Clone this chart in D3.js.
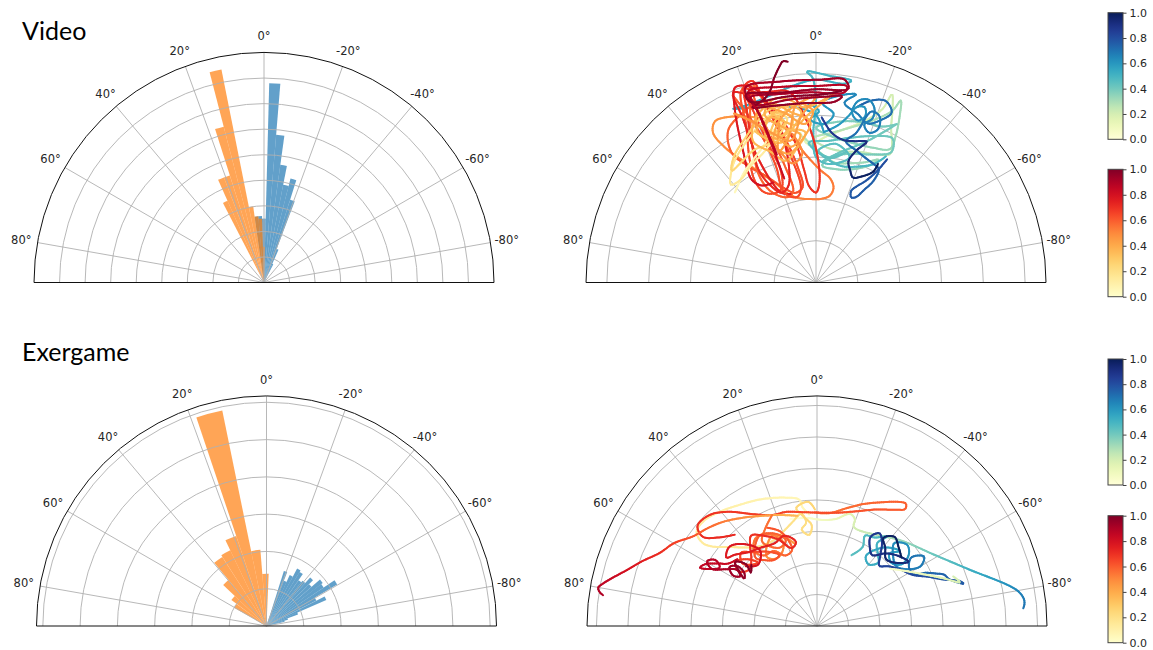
<!DOCTYPE html>
<html>
<head>
<meta charset="utf-8">
<script src="https://cdn.jsdelivr.net/npm/d3@7"></script>
<style>
  body { margin: 0; background: #fff; }
  svg { display: block; }
</style>
</head>
<body>
<svg id="chart" width="1153" height="650"></svg>
<script>
// ---------------- data ----------------
const angleTicks = [-80, -60, -40, -20, 0, 20, 40, 60, 80];
const colorbarTicks = [0, 0.2, 0.4, 0.6, 0.8, 1.0];

// Video: angular histogram (bin centre in degrees, count)
const videoBinWidth = 3.2;
const videoOrangeBins   = [0.1, 3.3, 6.5, 9.7, 12.9, 16.1, 19.3, 22.5, 25.7];
const videoOrangeCounts = [1.4, 2.5, 2.6, 3.0, 8.5, 6.3, 4.4, 4.4, 3.5];
const videoBlueBins     = [6.5, 3.3, 0.1, -3.1, -6.3, -9.5, -12.7, -15.9, -19.1, -22.3, -25.5];
const videoBlueCounts   = [2.6, 2.6, 2.5, 7.8, 5.8, 4.65, 3.9, 4.2, 3.4, 1.4, 0.8];

// Exergame: angular histogram
const exOrangeBinWidth = 7;
const exOrangeBins   = [1.1, 8.1, 15.1, 22.1, 29.1, 36.1, 43.1, 50.1, 57.1];
const exOrangeCounts = [1.4, 2.05, 5.9, 2.55, 2.25, 2.2, 1.6, 1.17, 1.0];
const exBlueBinWidth = 3.5;
const exBlueBins   = [-19.25, -22.75, -26.25, -29.75, -33.25, -36.75, -40.25, -43.75, -47.25,
                      -50.75, -54.25, -57.75, -61.25, -64.75, -68.25, -71.75, -75.25];
const exBlueCounts = [1.55, 1.3, 1.5, 1.75, 1.7, 1.5, 1.55, 1.75, 1.6,
                      1.9, 1.85, 2.2, 1.5, 1.75, 0.9, 0.6, 0.5];

// Video: trajectories as [angle in degrees, radius]; each has a normalised time span
const vidRedA = [[42,2.9],[38,3.0],[33,3.15],[27,3.3],[21,3.5],[16,3.75],[12,3.95],[16,3.6],[22,3.35],[29,3.2],[36,3.05],[41,3.1],[35,3.45],[28,3.7],[21,3.95],[15,4.15],[10,4.0],[13,3.7],[19,3.5],[25,3.5],[31,3.4],[37,3.35],[33,3.6],[26,3.85],[20,4.1],[14,4.3],[9,4.25]];
const vidRedB = [[9,4.2],[14,4.0],[17,3.7],[11,3.9],[15,4.2],[8,4.0],[12,3.6],[18,3.9],[10,4.3],[5,4.1],[9,3.7],[14,3.45],[19,3.6],[16,4.1],[7,3.8],[3,4.0],[-2,4.3],[-6,4.6],[-3,4.4],[4,4.2],[8,4.4],[13,4.5],[17,4.2],[12,3.8],[6,3.55],[10,3.3],[15,3.55],[21,3.8],[18,4.4],[11,4.15],[4,3.8],[1,4.1],[6,4.3],[11,3.5],[16,3.25],[13,3.9]];
const vidRedF = [[22,3.9],[16,3.5],[10,3.7],[4,3.6],[8,3.25],[14,3.0],[19,3.3],[24,3.7],[20,4.2],[14,4.4],[8,4.1],[2,3.85],[6,3.4],[12,3.15],[17,3.45],[13,3.95],[7,4.25],[0,4.45],[5,4.0],[10,3.45],[16,3.7],[23,4.25],[26,4.5],[20,4.0],[15,3.2],[11,2.9],[6,3.1],[9,3.6]];
const vidRedC = [[13,3.9],[20,4.2],[27,4.45],[32,4.55],[34.5,4.35],[34,3.9],[31,3.4],[27,2.95],[22,2.55],[17,2.2],[11,2.05],[4,2.0],[-3,2.0],[-9,2.1],[-10.5,2.3],[-8,2.5],[-2,2.7],[5,3.1],[10,3.6],[14,4.1],[18,4.5],[24,4.4],[30,4.2],[33,3.7],[30,3.2],[25,2.8],[19,2.4],[13,2.2],[8,2.3],[9,2.8],[12,3.5],[15,4.2]];
const vidRedD = [[15,4.2],[18,5.0],[20,4.6],[23,4.0],[26,3.4],[28,2.9],[27,2.5],[23,2.25],[18,2.15],[14,2.25],[15,2.9],[17,3.6],[18.5,4.3],[19,5.0],[21.5,4.9],[24,4.1],[28,3.4],[31,2.85],[30,2.5],[25,2.35],[20,2.4],[17.5,2.8],[19,3.5],[20,4.3],[20.5,4.95],[17,4.7],[12,4.0],[8,3.3],[6,2.7],[4,2.3],[0,2.15],[-2,2.4],[0,3.2],[4,4.0],[8,4.6],[14,4.7],[20,4.8],[23.5,4.95],[24,4.3],[25,3.5],[24,2.7],[21,2.3],[16,2.2]];
const vidRedG = [[24,4.9],[22,4.3],[20,3.6],[19,2.9],[20,2.35],[17,2.15],[12,2.1],[9,2.3],[11,3.0],[14,3.8],[16,4.5],[17.5,5.05],[20,5.0],[22,4.4],[25,3.6],[27,3.0],[25,2.55],[21,2.3],[16,2.4],[13,2.9],[13,3.7],[15,4.4],[18,4.9],[22.5,5.05],[25,4.6],[29,3.6],[32,2.9],[29,2.65],[23,2.6]];
const vidRedE = [[17,2.6],[18,3.6],[19,4.5],[19.5,4.85],[10,4.75],[0,4.7],[-9,4.75],[-8.5,4.6],[2,4.55],[12,4.6],[19.5,4.7],[19,4.5],[8,4.42],[-3,4.45],[-8,4.5],[-6,4.35],[4,4.3],[14,4.35],[20,4.45],[16,4.55],[13.6,4.7],[11.5,5.0],[9.5,5.25],[8.5,5.35],[7.3,5.32]];
const vidRedH = [[17,3.2],[18.5,4.2],[20,4.95],[10,4.88],[-1,4.85],[-8,4.9],[-9.5,4.7],[0,4.62],[11,4.62],[20.5,4.8],[20,4.6],[9,4.5],[-2,4.5],[-7.5,4.62]];
const vidBlueA = [[6,3.6],[3,3.3],[-4,3.5],[-11,3.75],[-17,4.05],[-21,4.45],[-22,4.85],[-23.5,4.6],[-26,4.1],[-29,3.75],[-30,3.55],[-26,3.4],[-19,3.3],[-11,3.2],[-4,3.25],[1,3.45],[-6,3.6],[-14,3.85],[-20,4.15],[-24,4.5],[-25,4.8],[-26.5,4.5],[-28.5,4.0],[-29,3.65],[-23,3.5],[-15,3.45],[-7,3.5],[0,3.7],[-9,3.9],[-17,4.0],[-23,4.05],[-27,4.25]];
const vidBlueE = [[5,3.5],[-2,3.1],[-9,2.9],[-15,2.95],[-22,3.1],[-27,3.3],[-24,3.05],[-18,2.85],[-10,2.75],[-3,2.8],[-8,3.05],[-16,3.2],[-24,3.35],[-30,3.6],[-28,3.9],[-21,3.75],[-13,3.55],[-5,3.4],[3,3.35],[-4,3.0],[-12,2.85],[-20,2.95],[-26,3.15],[-29,3.45]];
const vidBlueB = [[-27,4.25],[-20,3.6],[-10,3.15],[-3,2.9],[-13,3.2],[-7,3.0],[-1,3.15],[-8,3.35],[-15,3.1],[-6,2.85],[0,3.0],[1,3.6],[0,4.3],[1,4.9],[2.5,5.05],[-4,4.95],[-10,4.9],[-8,4.8],[0,4.85],[6,4.75],[14,4.6],[21,4.55],[25.5,4.6],[22,4.5],[14,4.35],[6,4.2],[0,4.0],[-3,3.6]];
const vidBlueF = [[3,4.3],[-1,4.1],[2,3.9],[-3,3.8],[-6,4.05],[-2,4.3],[-7,4.5],[-12,4.6],[-9,4.35],[-14,4.15],[-18,4.0],[-22,4.2],[-24,4.45],[-21,4.65],[-17,4.55],[-13,4.3]];
const vidBlueC = [[-3,3.6],[-8,3.8],[-11,4.05],[-13,4.3],[-15.5,4.35],[-16.5,4.15],[-14.5,4.0],[-12,4.15],[-13,4.45],[-16,4.55],[-18.5,4.4],[-19,4.15],[-17,3.95],[-19.5,3.8],[-22,3.95],[-21,4.25],[-18,4.3],[-15,3.7],[-12,3.45],[-17,3.3],[-22,3.2],[-26,3.15],[-29,3.1],[-29.5,2.8],[-27.5,2.5],[-25,2.25],[-22.5,2.2],[-21,2.35],[-23,2.5],[-26,2.7],[-28.5,3.0],[-30,3.4]];
const vidBlueD = [[-2,3.95],[-6,3.6],[-10.8,3.47],[-15,3.5],[-19.8,3.58],[-17,3.3],[-15,3.0],[-17,2.8],[-19.4,2.66],[-23,2.75],[-27.3,2.98],[-27.6,3.2]];
// drawing order: long loops first, then the dense cluster, then the late strokes on top
const vidRedTracks  = [vidRedC, vidRedD, vidRedG, vidRedA, vidRedB, vidRedF, vidRedE, vidRedH];
const vidRedSpans   = [[0.45, 0.65], [0.55, 0.75], [0.6, 0.8], [0.05, 0.3], [0.3, 0.45], [0.33, 0.5], [0.82, 1.0], [0.88, 1.0]];
const vidBlueTracks = [vidBlueA, vidBlueE, vidBlueB, vidBlueF, vidBlueC, vidBlueD];
const vidBlueSpans  = [[0.15, 0.4], [0.28, 0.5], [0.4, 0.58], [0.55, 0.75], [0.58, 0.8], [0.85, 1.0]];

// Exergame: trajectories
const exRedA = [[4,3.55],[7,3.8],[8,4.05],[14,4.2],[24,4.4],[32,4.55],[40,4.75],[47,4.9],[52,4.85],[54,4.5],[53,4.2],[48,3.75],[42,3.35],[35,3.1],[27,3.05],[19,3.2],[13,3.4],[8,3.6],[6,3.3],[9,3.1],[5,2.9],[3,3.2],[7,3.5],[10,3.8],[4,3.95],[1,3.7]];
const exRedB = [[1,3.6],[-6,3.6],[-14,3.85],[-21,4.15],[-28,4.45],[-33,4.7],[-36,4.8],[-37,4.65],[-34,4.45],[-27,4.15],[-19,3.85],[-10,3.65],[0,3.6],[8,3.65],[15,3.75],[22,3.8],[30,4.1],[38,4.6],[44,4.9],[50,4.95],[52,4.6],[48,4.2],[42,3.9]];
const exRedC = [[10,3.55],[14,3.62],[20,3.75],[28,3.95],[34,4.15],[42,4.45],[48,4.65],[54,4.85],[60,5.25],[65,5.5],[70,5.95],[73.6,6.29],[77,6.7],[79,6.95],[80,7.05],[81,7.0],[81.8,6.86]];
const exRedF = [[15,2.7],[20,3.0],[26,3.2],[32,3.0],[36,2.7],[31,2.5],[25,2.6],[22,2.9],[28,3.3],[35,3.4],[40,3.1],[37,2.8],[30,2.75],[24,2.45],[18,2.55],[21,3.2],[27,3.5]];
const exRedD = [[22,3.8],[28,3.5],[33,3.2],[30,2.9],[25,2.75],[20,2.9],[24,3.2],[32,3.4],[38,3.2],[42,2.9],[38,2.65],[33,2.5],[28,2.55],[34,2.85],[41,3.1],[46,3.35],[50,3.1],[47,2.85],[43,2.75],[46,3.05],[52,3.3],[55,3.0],[50,2.8],[44,3.0],[40,3.3],[36,3.55],[30,3.3],[24,3.0],[18,2.6],[14,2.75],[20,3.05],[27,2.95],[35,3.05],[43,3.2],[49,3.45],[53,3.6],[48,3.75],[42,3.5],[37,3.0],[44,2.7],[50,2.95]];
const exRedE = [[50,3.3],[55,3.45],[58,3.75],[61,4.05],[63.5,4.15],[62,3.85],[59,3.6],[57,3.85],[59.5,4.05],[61.5,3.8],[58,3.4],[55,3.1],[57,2.9],[59,3.1],[56,3.35],[53,3.15],[54,2.85],[57,2.75],[55,3.0],[52,3.3],[49,3.0],[51,2.7],[47,2.85]];
const exBlueA = [[14,3.5],[6,3.45],[-3.4,3.37],[-10,3.45],[-16.4,3.71],[-19.5,3.6],[-20.5,3.35],[-45,3.82],[-59,4.37],[-69.3,5.12],[-79.8,6.44],[-82.5,6.62],[-84,6.62],[-85.1,6.57]];
const exBlueB = [[-26,2.5],[-30,2.9],[-28,3.25],[-33,3.35],[-38,3.6],[-36,3.25],[-40,3.0],[-44,2.8],[-40,2.55],[-35,2.7],[-38,3.1],[-43,3.4],[-48,3.55],[-45,3.25],[-50,3.1],[-54,3.35],[-52,3.7],[-48,3.85],[-43,3.6],[-47,3.3],[-53,3.15],[-58,3.4],[-60,3.8],[-57,4.05],[-54,3.7],[-58,3.45],[-62,3.5],[-64,3.85],[-66,4.1],[-68,4.35],[-70.5,4.45],[-73,4.7],[-74,4.85],[-72.5,4.75],[-70,4.3],[-66,3.85],[-62,3.45],[-56,3.2],[-50,2.95],[-46,2.75],[-42,3.0],[-38,3.35],[-34,3.55],[-31,3.3],[-34,3.0],[-38,2.85],[-43,3.15],[-49,3.4],[-55,3.55],[-52,3.25],[-46,3.05],[-41,3.3],[-37,3.5],[-41,3.75],[-46,3.6],[-51,3.45]];
const exBlueC = [[-52,2.95],[-58,3.3],[-64,3.75],[-69,4.25],[-73,4.75],[-70,4.6]];
const exRedTracks  = [exRedA, exRedB, exRedC, exRedF, exRedD, exRedE];
const exRedSpans   = [[0.05, 0.25], [0.55, 0.72], [0.35, 0.9], [0.45, 0.62], [0.55, 0.8], [0.82, 1.0]];
const exBlueTracks = [exBlueA, exBlueB, exBlueC];
const exBlueSpans  = [[0.0, 0.7], [0.45, 1.0], [0.05, 0.2]];

// ---------------- layout ----------------
const R = 230;
const svg = d3.select('#chart');
const ang = d3.scaleLinear().domain([-90, 90]).range([Math.PI / 2, -Math.PI / 2]);
const gridColor = '#b0b0b0';
const textColor = '#262626';
const tickFont = '"DejaVu Sans", sans-serif';

function polarPanel(cx, cy, rmax) {
  const g = svg.append('g').attr('transform', `translate(${cx},${cy})`);
  const r = d3.scaleLinear().domain([0, rmax]).range([0, R]);
  return { g, r };
}

function drawGrid(p) {
  const { g, r } = p;
  const rings = d3.range(1, Math.ceil(r.domain()[1])).filter(k => r(k) < R - 0.5);
  const gg = g.append('g');
  gg.selectAll('path').data(rings).join('path')
    .attr('d', k => { const pth = d3.path(); pth.arc(0, 0, r(k), Math.PI, 2 * Math.PI); return pth.toString(); })
    .attr('fill', 'none').attr('stroke', gridColor).attr('stroke-width', 0.9);
  gg.selectAll('line').data(angleTicks).join('line')
    .attr('x1', 0).attr('y1', 0)
    .attr('x2', d => R * Math.sin(ang(d)))
    .attr('y2', d => -R * Math.cos(ang(d)))
    .attr('stroke', gridColor).attr('stroke-width', 0.9);
}

function drawFrame(p) {
  const { g } = p;
  const pth = d3.path(); pth.arc(0, 0, R, Math.PI, 2 * Math.PI);
  g.append('path').attr('d', pth.toString()).attr('fill', 'none')
    .attr('stroke', '#111').attr('stroke-width', 1);
  g.append('line').attr('x1', -R).attr('x2', R).attr('y1', 0).attr('y2', 0)
    .attr('stroke', '#111').attr('stroke-width', 1);
  g.append('g').selectAll('text').data(angleTicks).join('text')
    .attr('x', d => (R + 16.5) * Math.sin(ang(d)))
    .attr('y', d => -(R + 16.5) * Math.cos(ang(d)))
    .attr('text-anchor', 'middle').attr('dominant-baseline', 'central')
    .attr('font-family', tickFont).attr('font-size', 11.5).attr('fill', textColor)
    .text(d => `${d}°`);
}

function drawBars(p, centres, counts, width, color) {
  const { g, r } = p;
  const arc = d3.arc().innerRadius(0);
  g.append('g').selectAll('path').data(centres.map((c, i) => ({ c, v: counts[i] }))).join('path')
    .attr('d', d => arc({
      outerRadius: r(d.v),
      startAngle: ang(d.c + width / 2),
      endAngle: ang(d.c - width / 2)
    }))
    .attr('fill', color).attr('fill-opacity', 0.7);
}

// Smooth path through the samples, stroked in short pieces coloured by elapsed time
function drawTrajectory(p, pts, span, interp) {
  const { g, r } = p;
  const line = d3.lineRadial()
    .angle(d => ang(d[0])).radius(d => r(d[1]))
    .curve(d3.curveCatmullRom.alpha(0.5));
  const tmp = g.append('path').attr('d', line(pts)).attr('fill', 'none').attr('stroke', 'none');
  const node = tmp.node();
  const L = node.getTotalLength();
  const n = Math.max(2, Math.ceil(L / 2));
  const segs = [];
  let prev = node.getPointAtLength(0);
  for (let i = 1; i <= n; i++) {
    const q = node.getPointAtLength(L * i / n);
    segs.push({ a: prev, b: q, t: span[0] + (span[1] - span[0]) * (i - 0.5) / n });
    prev = q;
  }
  tmp.remove();
  g.append('g').selectAll('line').data(segs).join('line')
    .attr('x1', d => d.a.x).attr('y1', d => d.a.y)
    .attr('x2', d => d.b.x).attr('y2', d => d.b.y)
    .attr('stroke', d => interp(d.t))
    .attr('stroke-width', 2).attr('stroke-linecap', 'round');
}

function drawColorbar(x, yTop, yBottom, interp, id) {
  const w = 15;
  const defs = svg.append('defs');
  const grad = defs.append('linearGradient').attr('id', id)
    .attr('x1', 0).attr('y1', 1).attr('x2', 0).attr('y2', 0);
  d3.range(0, 1.0001, 0.05).forEach(t => {
    grad.append('stop').attr('offset', t).attr('stop-color', interp(t));
  });
  svg.append('rect').attr('x', x).attr('y', yTop).attr('width', w).attr('height', yBottom - yTop)
    .attr('fill', `url(#${id})`).attr('stroke', '#444').attr('stroke-width', 1);
  const s = d3.scaleLinear().domain([0, 1]).range([yBottom, yTop]);
  const ax = svg.append('g').attr('transform', `translate(${x + w},0)`)
    .call(d3.axisRight(s).tickValues(colorbarTicks).tickFormat(d3.format('.1f')).tickSize(3.5).tickPadding(3));
  ax.select('.domain').remove();
  ax.selectAll('line').attr('stroke', '#444');
  ax.selectAll('text').attr('font-family', tickFont).attr('font-size', 11).attr('fill', textColor);
}

// ---------------- panels ----------------
const blueMap = d3.interpolateYlGnBu;
const redMap = d3.interpolateYlOrRd;

// Video histogram
const pVH = polarPanel(264, 282.5, 9);
drawBars(pVH, videoBlueBins, videoBlueCounts, videoBinWidth, '#1f77b4');
drawBars(pVH, videoOrangeBins, videoOrangeCounts, videoBinWidth, '#ff7f0e');
drawGrid(pVH);
drawFrame(pVH);

// Video trajectories
const pVT = polarPanel(816, 282.5, 5.5);
drawGrid(pVT);
vidBlueTracks.forEach((t, i) => drawTrajectory(pVT, t, vidBlueSpans[i], blueMap));
vidRedTracks.forEach((t, i) => drawTrajectory(pVT, t, vidRedSpans[i], redMap));
drawFrame(pVT);

// Exergame histogram
const pEH = polarPanel(266.5, 626, 6.17);
drawBars(pEH, exBlueBins, exBlueCounts, exBlueBinWidth, '#1f77b4');
drawBars(pEH, exOrangeBins, exOrangeCounts, exOrangeBinWidth, '#ff7f0e');
drawGrid(pEH);
drawFrame(pEH);

// Exergame trajectories
const pET = polarPanel(817, 626, 7.3);
drawGrid(pET);
exBlueTracks.forEach((t, i) => drawTrajectory(pET, t, exBlueSpans[i], blueMap));
exRedTracks.forEach((t, i) => drawTrajectory(pET, t, exRedSpans[i], redMap));
drawFrame(pET);

// titles
svg.append('text').attr('x', 22).attr('y', 39.5).text('Video')
  .attr('font-family', 'Lato, sans-serif').attr('font-size', 25).attr('fill', '#000');
svg.append('text').attr('x', 22).attr('y', 361).text('Exergame')
  .attr('font-family', 'Lato, sans-serif').attr('font-size', 25).attr('fill', '#000');

// colour bars
drawColorbar(1108, 12.7, 139.3, blueMap, 'cbBlue1');
drawColorbar(1108, 169.3, 296.7, redMap, 'cbRed1');
drawColorbar(1108, 359, 485, blueMap, 'cbBlue2');
drawColorbar(1108, 515.7, 642.7, redMap, 'cbRed2');
</script>
</body>
</html>
